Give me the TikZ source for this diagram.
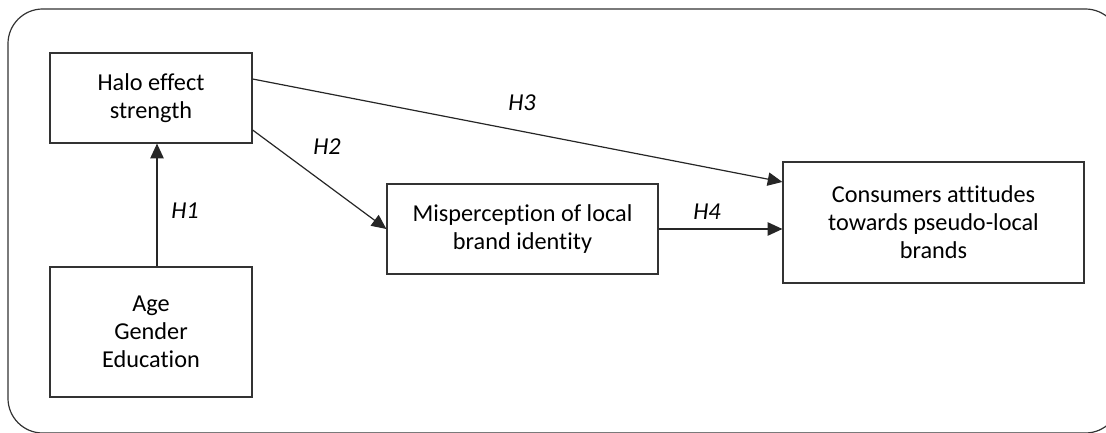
\documentclass[tikz,border=0pt]{standalone}
\usepackage{fontspec}
\setmainfont[Ligatures=NoCommon]{Carlito}
\usetikzlibrary{arrows.meta, positioning}

\begin{document}
\begin{tikzpicture}[x=0.75pt, y=-0.75pt,
  box/.style={draw=black!80, line width=0.9pt, align=center, inner sep=0pt,
    font=\fontsize{18.2}{21}\selectfont},
  hlabel/.style={font=\fontsize{18.2}{21}\selectfont\itshape, inner sep=0pt},
  link/.style={-{Triangle[length=11pt, width=10pt]}, line width=0.9pt, draw=black!85}]
  \useasboundingbox (0,0) rectangle (1106,432);

  % outer frame, cut by the page edge
  \begin{scope}
    \clip (0,0) rectangle (1106,432);
    \draw[black!80, line width=0.9pt, rounded corners=26pt] (8,9) rectangle (1120,433);
  \end{scope}

  % boxes
  \node[box, minimum width=151.5pt, minimum height=67.5pt]
  (halo) at (151,98) {Halo effect\\strength};
  \node[box, minimum width=151.5pt, minimum height=97.5pt]
  (demo) at (151,332) {Age\\Gender\\Education};
  \node[box, minimum width=203.25pt, minimum height=67.5pt]
  (misp) at (522.5,229) {Misperception of local\\brand identity};
  \node[box, minimum width=225.75pt, minimum height=90.75pt]
  (attit) at (933.5,222.5) {Consumers attitudes\\towards pseudo-local\\brands};

  % hypotheses
  \draw[link] ([xshift=4.5pt]demo.north) -- ([xshift=4.5pt]halo.south);
  \draw[link] ([yshift=-24pt]halo.east) -- (misp.west);
  \draw[link] ([yshift=14.25pt]halo.east) -- ([yshift=30.4pt]attit.west);
  \draw[link] (misp.east) -- (misp.east -| attit.west);

  \node[hlabel] (h1) at (185,211) {H1};
  \node[hlabel] (h2) at (327,147) {H2};
  \node[hlabel] (h3) at (522,103) {H3};
  \node[hlabel] (h4) at (707,212) {H4};
\end{tikzpicture}
\end{document}
